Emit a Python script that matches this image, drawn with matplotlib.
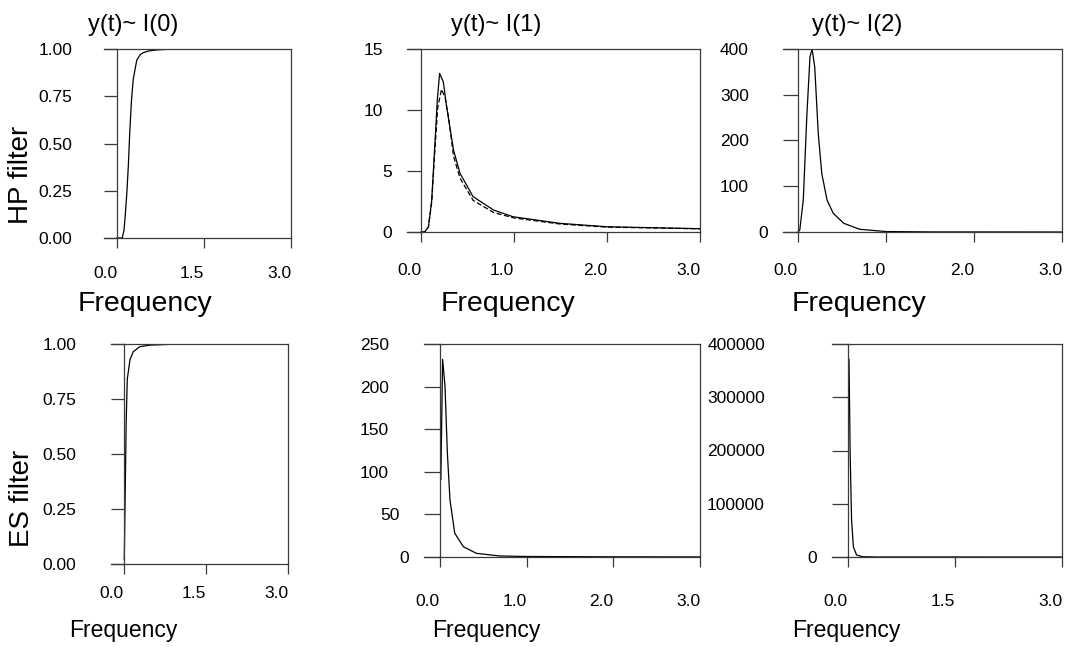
import matplotlib
matplotlib.use('Agg')
import matplotlib.pyplot as plt

plt.rcParams['font.family'] = ['Liberation Sans', 'DejaVu Sans']

# --- dados ---
# HP filter, y(t) ~ I(0)
hp0_x = [0.0, 0.09, 0.12, 0.14, 0.17, 0.195, 0.22, 0.25, 0.28, 0.34, 0.40, 0.45, 0.55, 0.68, 0.97, 3.0]
hp0_y = [0.0, 0.0, 0.04, 0.11, 0.24, 0.38, 0.56, 0.73, 0.84, 0.94, 0.97, 0.98, 0.99, 0.995, 1.0, 1.0]

# HP filter, y(t) ~ I(1): linha cheia e tracejada
hp1_x = [0.0, 0.04, 0.08, 0.115, 0.15, 0.175, 0.20, 0.24, 0.275, 0.35, 0.42, 0.56, 0.78, 0.99, 1.49, 2.0, 3.0]
hp1_y = [0.0, 0.0, 0.43, 2.6, 7.3, 10.8, 13.0, 12.3, 10.3, 6.7, 4.8, 2.9, 1.8, 1.25, 0.71, 0.43, 0.27]
hp1b_x = [0.0, 0.04, 0.08, 0.115, 0.15, 0.18, 0.22, 0.26, 0.30, 0.35, 0.42, 0.56, 0.78, 1.0, 1.5, 2.0, 3.0]
hp1b_y = [0.0, 0.0, 0.4, 2.4, 6.8, 10.2, 11.7, 11.0, 9.2, 6.2, 4.4, 2.6, 1.6, 1.15, 0.65, 0.4, 0.26]

# HP filter, y(t) ~ I(2)
hp2_x = [0.0, 0.02, 0.06, 0.10, 0.136, 0.16, 0.19, 0.23, 0.27, 0.33, 0.40, 0.52, 0.70, 1.0, 1.5, 3.0]
hp2_y = [0.0, 4, 70, 252, 383, 400, 361, 216, 128, 70, 41, 19, 6, 1, 0.2, 0.0]

# ES filter, y(t) ~ I(0)
es0_x = [0.005, 0.04, 0.06, 0.11, 0.17, 0.29, 0.48, 1.0, 3.0]
es0_y = [0.02, 0.65, 0.84, 0.93, 0.965, 0.988, 0.995, 1.0, 1.0]

# ES filter, y(t) ~ I(1)
es1_x = [0.01, 0.03, 0.058, 0.085, 0.115, 0.17, 0.27, 0.42, 0.69, 1.0, 2.0, 3.0]
es1_y = [91, 232, 200, 122, 67, 28, 12, 4.3, 1.2, 0.6, 0.2, 0.1]

# ES filter, y(t) ~ I(2)
es2_x = [0.014, 0.03, 0.05, 0.075, 0.12, 0.2, 0.4, 3.0]
es2_y = [371000, 195000, 69500, 19300, 3800, 500, 50, 0]

W, H = 1065, 647
fig = plt.figure(figsize=(W / 100, H / 100), dpi=100)
axis_col = '#3a3a3a'
tick_fs = 12.5


def painel(left, spine, right, top, bottom, ymax, yticks, ylabels, ygaps,
           xticks, xlabels, xpad):
    """Cria um painel com o eixo y em x=0 e a caixa aberta à esquerda."""
    ax = fig.add_axes([left / W, 1 - bottom / H, (right - left) / W, (bottom - top) / H])
    x0 = -3.0 * (spine - left) / (right - spine)
    ax.set_xlim(x0, 3.0)
    ax.set_ylim(0, ymax)
    ax.spines['left'].set_position(('data', 0))
    for s in ax.spines.values():
        s.set_color(axis_col)
        s.set_linewidth(0.9)
    ax.set_xticks(xticks)
    ax.set_xticklabels(xlabels, ha='right')
    ax.set_yticks(yticks)
    ax.set_yticklabels(ylabels)
    ax.tick_params(axis='x', direction='out', length=7.5, width=0.9, color=axis_col,
                   pad=xpad, labelsize=tick_fs)
    ax.tick_params(axis='y', direction='out', length=(spine - left) * 0.72, width=0.9,
                   color=axis_col, labelsize=tick_fs)
    # afastamento de cada etiqueta do eixo y (em pixels)
    for tick, g in zip(ax.yaxis.get_major_ticks(), ygaps):
        tick.set_pad(g * 0.72)
    ax.patch.set_visible(False)
    return ax


def txt(x, y, s, size, **kw):
    fig.text(x / W, 1 - y / H, s, fontsize=size, ha='center', va='center', **kw)


# linha de cima
ax1 = painel(104, 117, 291, 49, 238, 1.0, [0, 0.25, 0.5, 0.75, 1.0],
             ['0.00', '0.25', '0.50', '0.75', '1.00'], [32] * 5,
             [0, 1.5, 3.0], ['0.0', '1.5', '3.0'], 12.5)
ax1.plot(hp0_x, hp0_y, color='black', lw=0.9)

ax2 = painel(407, 421, 700, 49, 232, 15, [0, 5, 10, 15], ['0', '5', '10', '15'],
             [15, 15, 24, 24], [0, 1, 2, 3], ['0.0', '1.0', '2.0', '3.0'], 15)
ax2.plot(hp1_x, hp1_y, color='black', lw=0.9)
ax2.plot(hp1b_x, hp1b_y, color='black', lw=0.9, dashes=(4, 2))

ax3 = painel(783, 798, 1062, 49, 232, 400, [0, 100, 200, 300, 400],
             ['0', '100', '200', '300', '400'], [15, 34, 34, 34, 34],
             [0, 1, 2, 3], ['0.0', '1.0', '2.0', '3.0'], 15)
ax3.plot(hp2_x, hp2_y, color='black', lw=0.9)

# linha de baixo
ax4 = painel(111, 124, 288, 344, 564, 1.0, [0, 0.25, 0.5, 0.75, 1.0],
             ['0.00', '0.25', '0.50', '0.75', '1.00'], [35] * 5,
             [0, 1.5, 3.0], ['0.0', '1.5', '3.0'], 8.5)
ax4.plot(es0_x, es0_y, color='black', lw=0.9)

ax5 = painel(424, 440, 700, 344, 557, 250, [0, 50, 100, 150, 200, 250],
             ['0', '50', '100', '150', '200', '250'], [15, 24, 35, 35, 35, 35],
             [0, 1, 2, 3], ['0.0', '1.0', '2.0', '3.0'], 19)
ax5.plot(es1_x, es1_y, color='black', lw=0.9)

ax6 = painel(832, 848, 1062, 344, 557, 400000, [0, 100000, 200000, 300000, 400000],
             ['0', '100000', '200000', '300000', '400000'], [15, 67, 67, 67, 67],
             [0, 1.5, 3.0], ['0.0', '1.5', '3.0'], 19)
ax6.plot(es2_x, es2_y, color='black', lw=0.9)

# títulos, rótulos dos eixos
txt(133, 25, 'y(t)~ I(0)', 17)
txt(496, 25, 'y(t)~ I(1)', 17)
txt(857, 25, 'y(t)~ I(2)', 17)

txt(145, 304, 'Frequency', 20.5)
txt(508, 304, 'Frequency', 20.5)
txt(859, 304, 'Frequency', 20.5)
txt(123, 631, 'Frequency', 16.5)
txt(486, 631, 'Frequency', 16.5)
txt(846, 631, 'Frequency', 16.5)

txt(21, 175, 'HP filter', 20, rotation=90)
txt(22, 498, 'ES filter', 20, rotation=90)

fig.savefig('out.png', dpi=100)
